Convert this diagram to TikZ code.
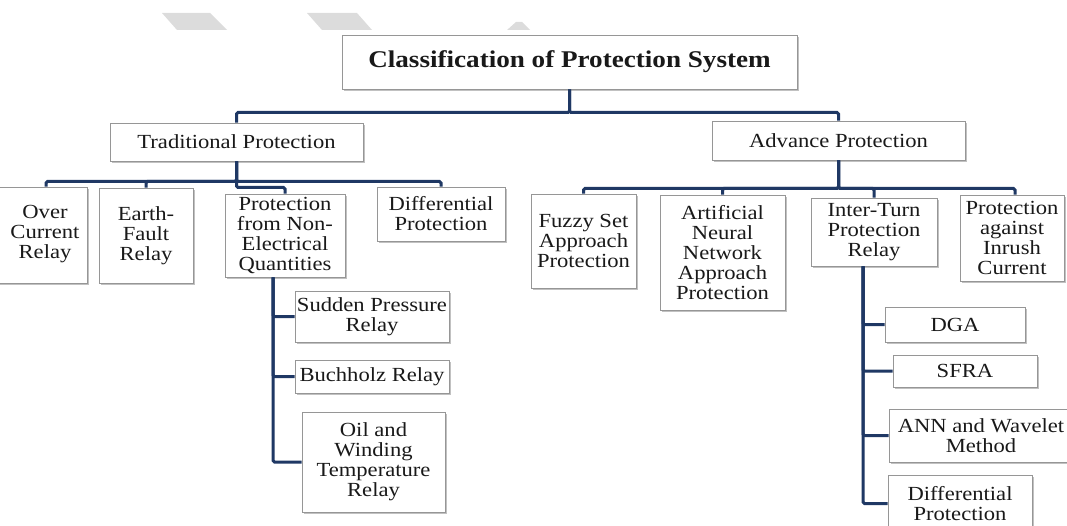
\documentclass[tikz,border=0pt]{standalone}
\usepackage{fontspec}
\setmainfont{Liberation Serif}[FakeStretch=1.13]
\usetikzlibrary{shadows}
\definecolor{navy}{RGB}{31,56,100}
\definecolor{boxline}{RGB}{150,150,150}
\definecolor{wm}{RGB}{220,220,220}
\definecolor{txt}{RGB}{25,25,25}
\begin{document}
\begin{tikzpicture}[x=1pt,y=-1pt,
  box/.style={draw=boxline, line width=0.8pt, fill=white, inner sep=0pt, align=center,
    text=txt, font=\fontsize{20}{20}\selectfont,
    drop shadow={shadow xshift=2pt, shadow yshift=-2pt, fill=black!30, opacity=0.8}},
  conn/.style={draw=navy, line width=3pt, rounded corners=1.5pt}]
\useasboundingbox (0,0) rectangle (1067,526);
% watermark shapes
\fill[wm] (162,13) -- (210,13) -- (227,30) -- (177,30) -- cycle;
\fill[wm] (307,13) -- (357,13) -- (372,30) -- (322,30) -- cycle;
\fill[wm] (507,30) -- (516,22) -- (522,22) -- (530,30) -- cycle;
% nodes
\node[box, minimum width=455, minimum height=54, font=\fontsize{24}{24}\selectfont\bfseries] (title) at (569.5,62) {Classification of Protection System};
\node[box, minimum width=253, minimum height=38] (trad) at (236.5,142) {Traditional Protection};
\node[box, minimum width=253, minimum height=39] (adv) at (838.5,140.5) {Advance Protection};
\node[box, minimum width=92, minimum height=96, align=none] (over) at (41,235) {\hspace*{8pt}\begin{tabular}{@{}c@{}}Over\\Current\\Relay\end{tabular}};
\node[box, minimum width=94, minimum height=95] (earth) at (146,235.5) {Earth-\\Fault\\Relay};
\node[box, minimum width=120, minimum height=83] (nonel) at (285,235.5) {Protection\\from Non-\\Electrical\\Quantities};
\node[box, minimum width=128, minimum height=54] (diffa) at (441,214) {Differential\\Protection};
\node[box, minimum width=154, minimum height=51] (sudden) at (372,316.5) {Sudden Pressure\\Relay};
\node[box, minimum width=154, minimum height=33] (buch) at (372,376.5) {Buchholz Relay};
\node[box, minimum width=143, minimum height=100] (oil) at (373.5,462) {Oil and\\Winding\\Temperature\\Relay};
\node[box, minimum width=105, minimum height=94] (fuzzy) at (583.5,241) {Fuzzy Set\\Approach\\Protection};
\node[box, minimum width=125, minimum height=115] (anna) at (722.5,252.5) {Artificial\\Neural\\Network\\Approach\\Protection};
\node[box, minimum width=126, minimum height=68] (inter) at (874,232) {Inter-Turn\\Protection\\Relay};
\node[box, minimum width=104, minimum height=86] (inrush) at (1012,238) {Protection\\against\\Inrush\\Current};
\node[box, minimum width=140, minimum height=35] (dga) at (955,324.5) {DGA};
\node[box, minimum width=144, minimum height=32] (sfra) at (965,371) {SFRA};
\node[box, minimum width=184, minimum height=53] (annw) at (981,435.5) {ANN and Wavelet\\Method};
\node[box, minimum width=144, minimum height=57] (diffb) at (960,503.5) {Differential\\Protection};
% connectors
\draw[conn] (title.south) -- ++(0,23) -| (trad.north);
\draw[conn] (title.south) -- ++(0,23) -| (adv.north);
\draw[conn] (trad.south) -- ++(0,20) -| ([xshift=5pt]over.north);
\draw[conn] (trad.south) -- ++(0,20) -| (earth.north);
\draw[conn] (trad.south) -- ++(0,20) -| (diffa.north);
\draw[conn] (trad.south) -- ++(0,26) -| (nonel.north);
\draw[conn] ([xshift=-12pt]nonel.south) |- (sudden.west);
\draw[conn] ([xshift=-12pt]nonel.south) |- (buch.west);
\draw[conn] ([xshift=-12pt]nonel.south) |- (oil.west);
\draw[conn] (adv.south) -- ++(0,28) -| (fuzzy.north);
\draw[conn] (adv.south) -- ++(0,28) -| (anna.north);
\draw[conn] (adv.south) -- ++(0,28) -| (inter.north);
\draw[conn] (adv.south) -- ++(0,28) -| ([xshift=3pt]inrush.north);
\draw[conn] ([xshift=-11pt]inter.south) |- (dga.west);
\draw[conn] ([xshift=-11pt]inter.south) |- (sfra.west);
\draw[conn] ([xshift=-11pt]inter.south) |- (annw.west);
\draw[conn] ([xshift=-11pt]inter.south) |- (diffb.west);
\end{tikzpicture}
\end{document}
